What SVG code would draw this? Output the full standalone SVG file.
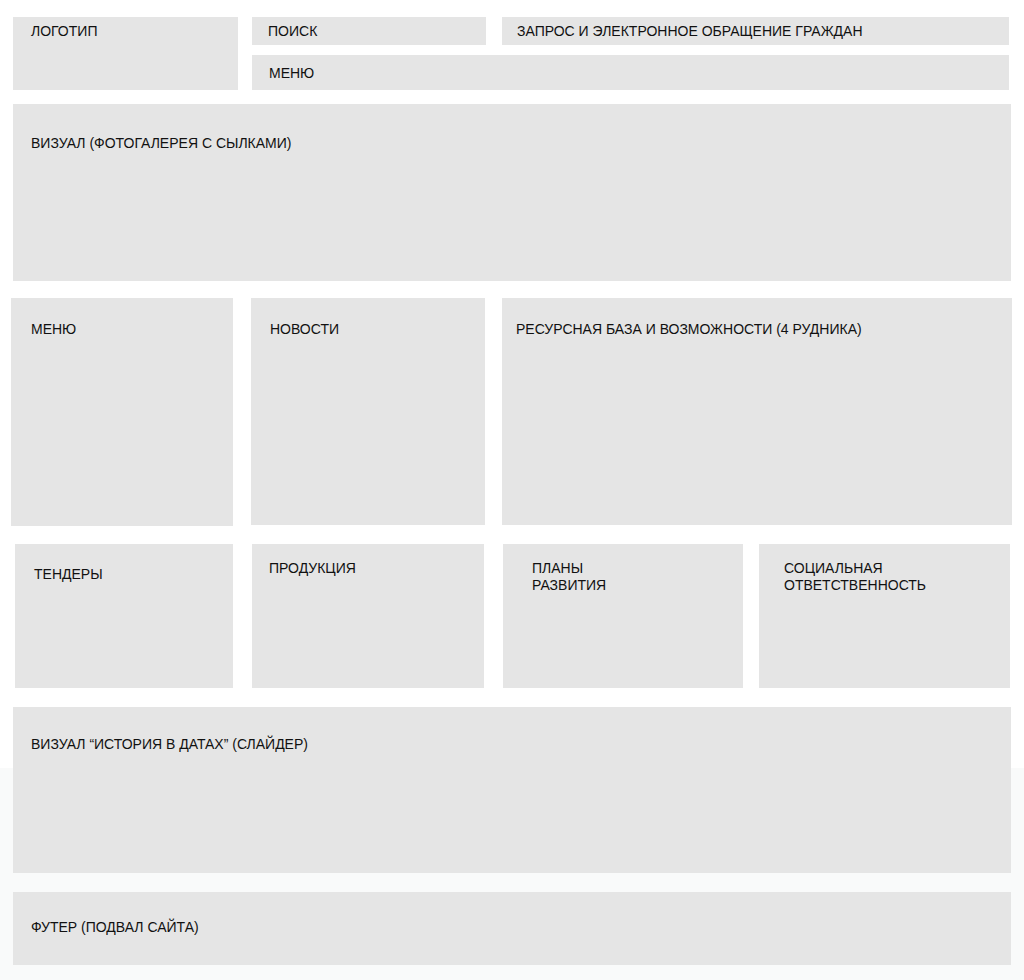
<svg xmlns="http://www.w3.org/2000/svg" width="1024" height="980" viewBox="0 0 1024 980">
<style>
.box{fill:#e5e5e5}
.lbl{font-family:"Liberation Sans",Arial,sans-serif;font-size:14px;fill:#111111}
</style>
<rect x="0" y="0" width="1024" height="980" fill="#ffffff"/>
<rect x="0" y="768" width="1024" height="212" fill="#f9fafa"/>
<g id="logo"><rect class="box" x="13" y="17" width="225" height="73"/><text class="lbl" x="31" y="36">ЛОГОТИП</text></g>
<g id="search"><rect class="box" x="252" y="17" width="234" height="28"/><text class="lbl" x="268" y="36">ПОИСК</text></g>
<g id="request"><rect class="box" x="502" y="17" width="507" height="28"/><text class="lbl" x="517" y="36">ЗАПРОС И ЭЛЕКТРОННОЕ ОБРАЩЕНИЕ ГРАЖДАН</text></g>
<g id="menu-top"><rect class="box" x="252" y="55" width="757" height="35"/><text class="lbl" x="269" y="78">МЕНЮ</text></g>
<g id="visual-gallery"><rect class="box" x="13" y="104" width="998" height="177"/><text class="lbl" x="31" y="148">ВИЗУАЛ (ФОТОГАЛЕРЕЯ С СЫЛКАМИ)</text></g>
<g id="menu-side"><rect class="box" x="11" y="298" width="222" height="228"/><text class="lbl" x="31" y="334">МЕНЮ</text></g>
<g id="news"><rect class="box" x="251" y="298" width="234" height="227"/><text class="lbl" x="270" y="334">НОВОСТИ</text></g>
<g id="resources"><rect class="box" x="502" y="298" width="510" height="227"/><text class="lbl" x="516" y="334">РЕСУРСНАЯ БАЗА И ВОЗМОЖНОСТИ (4 РУДНИКА)</text></g>
<g id="tenders"><rect class="box" x="15" y="544" width="218" height="144"/><text class="lbl" x="34" y="579">ТЕНДЕРЫ</text></g>
<g id="products"><rect class="box" x="252" y="544" width="232" height="144"/><text class="lbl" x="269" y="573">ПРОДУКЦИЯ</text></g>
<g id="plans"><rect class="box" x="503" y="544" width="240" height="144"/><text class="lbl" x="532" y="573">ПЛАНЫ</text><text class="lbl" x="532" y="590">РАЗВИТИЯ</text></g>
<g id="social"><rect class="box" x="759" y="544" width="251" height="144"/><text class="lbl" x="784" y="573">СОЦИАЛЬНАЯ</text><text class="lbl" x="784" y="590">ОТВЕТСТВЕННОСТЬ</text></g>
<g id="visual-history"><rect class="box" x="13" y="707" width="998" height="166"/><text class="lbl" x="31" y="749">ВИЗУАЛ “ИСТОРИЯ В ДАТАХ” (СЛАЙДЕР)</text></g>
<g id="footer"><rect class="box" x="13" y="892" width="998" height="73"/><text class="lbl" x="31" y="932">ФУТЕР (ПОДВАЛ САЙТА)</text></g>
<g id="connectors"></g>
</svg>
